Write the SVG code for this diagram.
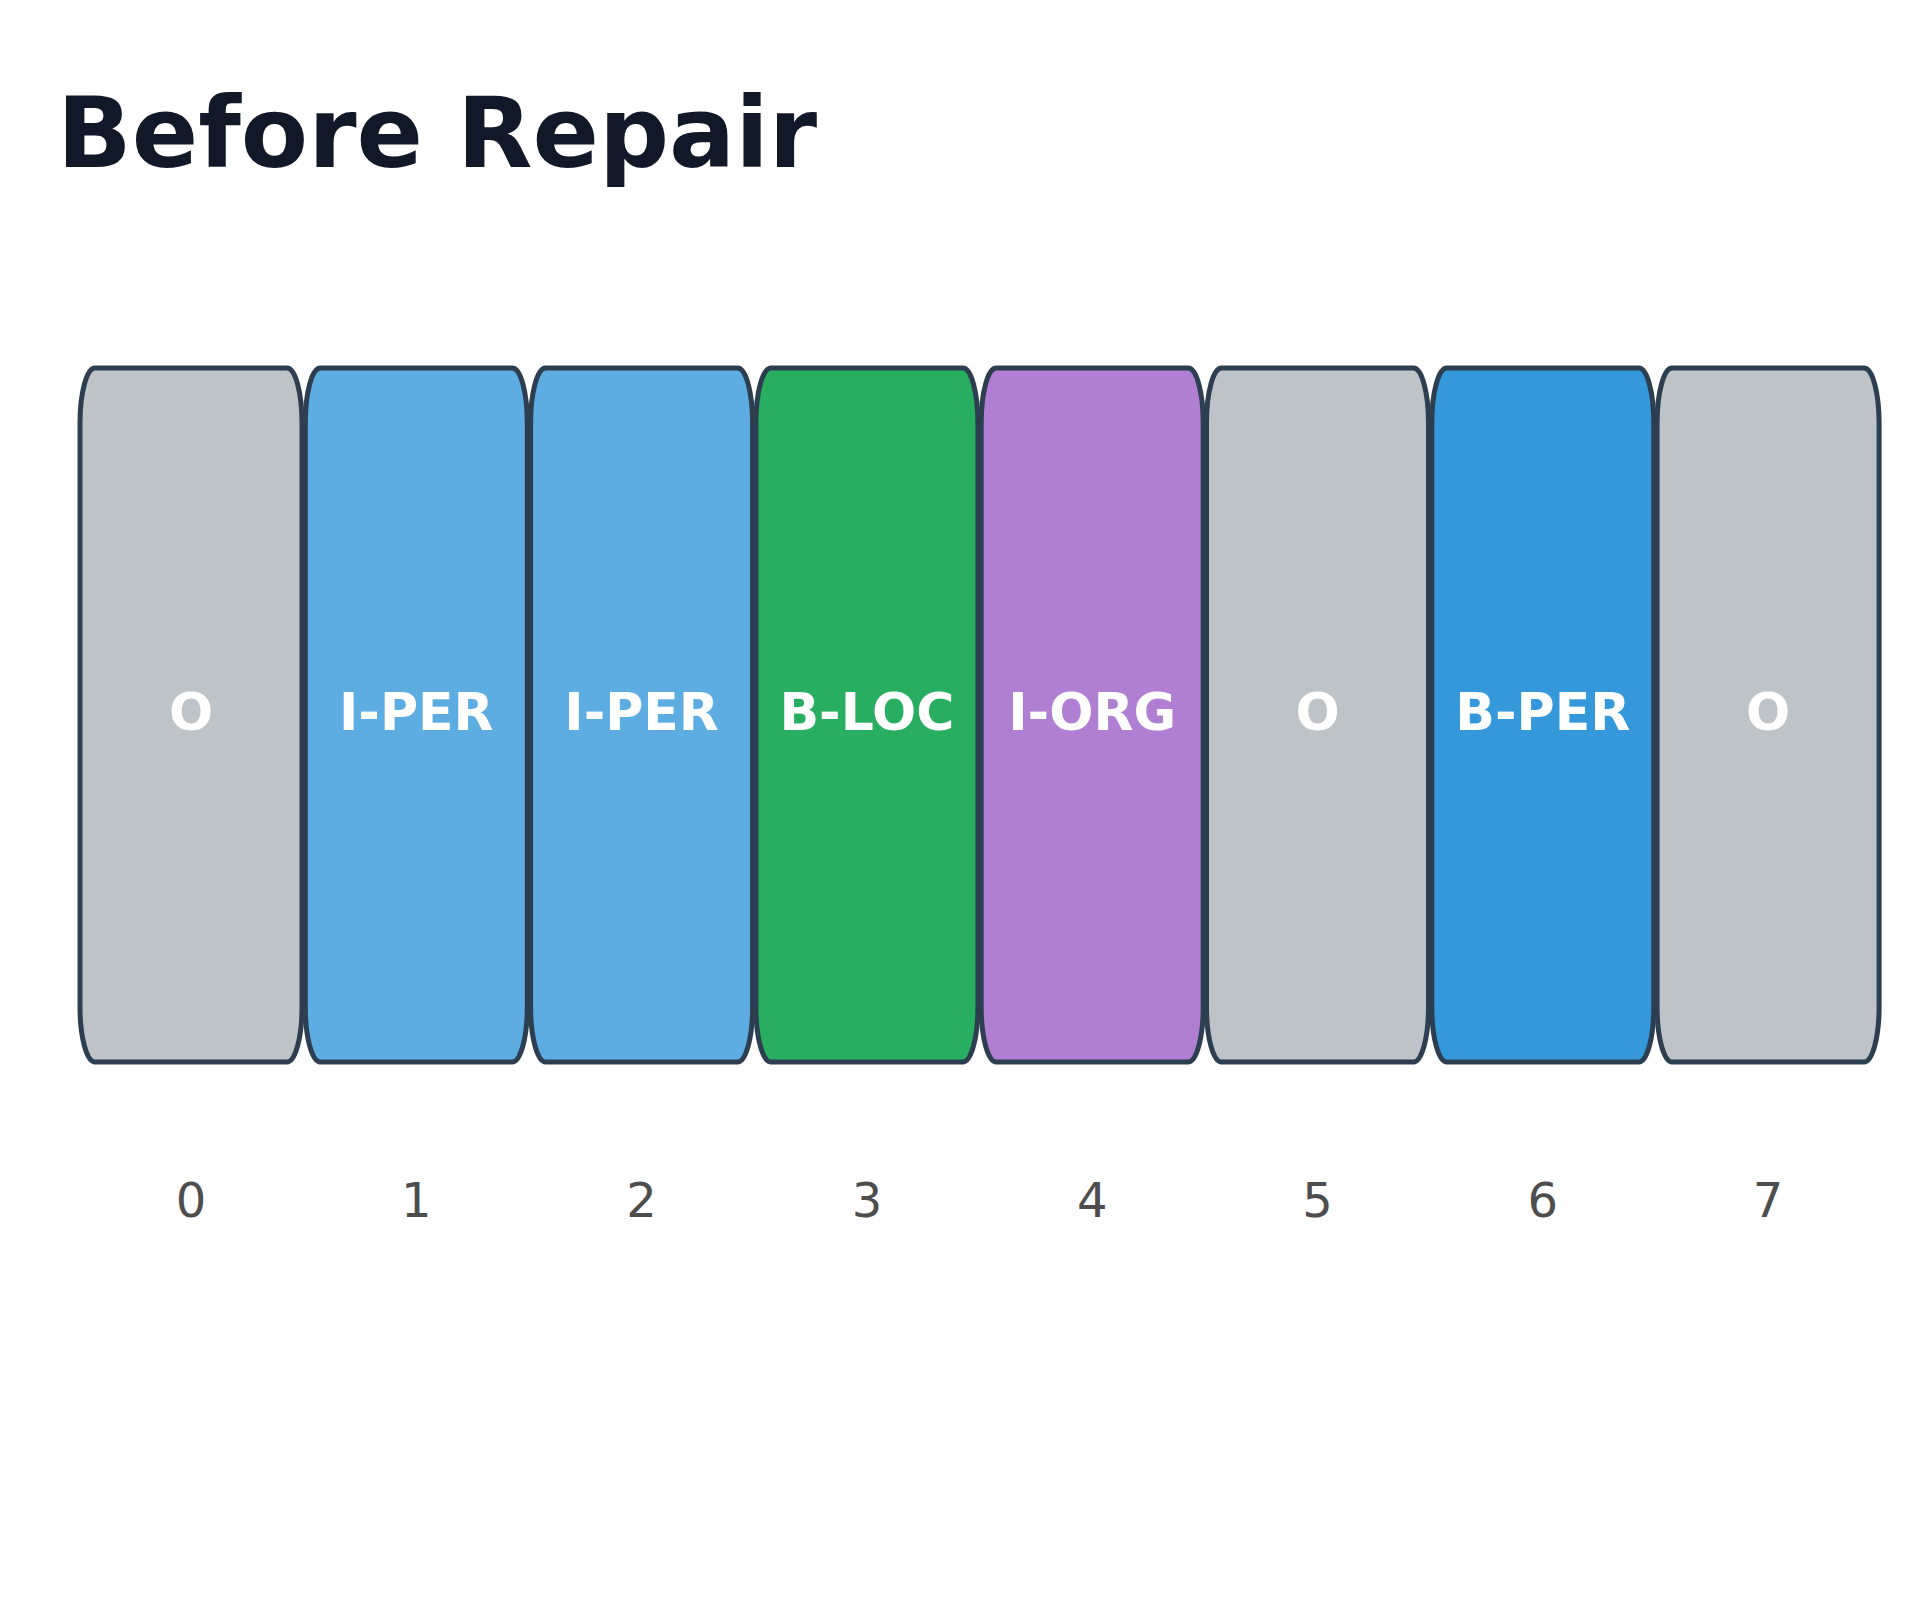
<svg xmlns="http://www.w3.org/2000/svg" width="1920" height="1600" viewBox="0 0 1920 1600">
  <style>
    .title { font-family: "DejaVu Sans", "Liberation Sans", sans-serif; font-weight: bold; font-size: 98px; fill: #111827; }
    .box { stroke: #2c3e50; stroke-width: 5; }
    .lbl { font-family: "DejaVu Sans", "Liberation Sans", sans-serif; font-weight: bold; font-size: 52px; fill: #ffffff; text-anchor: middle; }
    .idx { font-family: "DejaVu Sans", "Liberation Sans", sans-serif; font-size: 48px; fill: #4d4d4d; text-anchor: middle; }
    .o { fill: #bdc3c7; }
    .iper { fill: #5dade2; }
    .bloc { fill: #27ae60; }
    .iorg { fill: #b07fd3; }
    .bper { fill: #3498db; }
  </style>
  <rect width="1920" height="1600" fill="#ffffff"/>
  <text class="title" x="57" y="167">Before Repair</text>
  <g id="token-0">
    <rect class="box o" x="80" y="368" width="222" height="694" rx="15" ry="55"/>
    <text class="lbl" x="191" y="730">O</text>
    <text class="idx" x="191" y="1217">0</text>
  </g>
  <g id="token-1">
    <rect class="box iper" x="305.3" y="368" width="222" height="694" rx="15" ry="55"/>
    <text class="lbl" x="416.3" y="730">I-PER</text>
    <text class="idx" x="416.3" y="1217">1</text>
  </g>
  <g id="token-2">
    <rect class="box iper" x="530.6" y="368" width="222" height="694" rx="15" ry="55"/>
    <text class="lbl" x="641.6" y="730">I-PER</text>
    <text class="idx" x="641.6" y="1217">2</text>
  </g>
  <g id="token-3">
    <rect class="box bloc" x="755.9" y="368" width="222" height="694" rx="15" ry="55"/>
    <text class="lbl" x="866.9" y="730">B-LOC</text>
    <text class="idx" x="866.9" y="1217">3</text>
  </g>
  <g id="token-4">
    <rect class="box iorg" x="981.2" y="368" width="222" height="694" rx="15" ry="55"/>
    <text class="lbl" x="1092.2" y="730">I-ORG</text>
    <text class="idx" x="1092.2" y="1217">4</text>
  </g>
  <g id="token-5">
    <rect class="box o" x="1206.5" y="368" width="222" height="694" rx="15" ry="55"/>
    <text class="lbl" x="1317.5" y="730">O</text>
    <text class="idx" x="1317.5" y="1217">5</text>
  </g>
  <g id="token-6">
    <rect class="box bper" x="1431.8" y="368" width="222" height="694" rx="15" ry="55"/>
    <text class="lbl" x="1542.8" y="730">B-PER</text>
    <text class="idx" x="1542.8" y="1217">6</text>
  </g>
  <g id="token-7">
    <rect class="box o" x="1657.1" y="368" width="222" height="694" rx="15" ry="55"/>
    <text class="lbl" x="1768.1" y="730">O</text>
    <text class="idx" x="1768.1" y="1217">7</text>
  </g>
  <g id="connectors"/>
</svg>
